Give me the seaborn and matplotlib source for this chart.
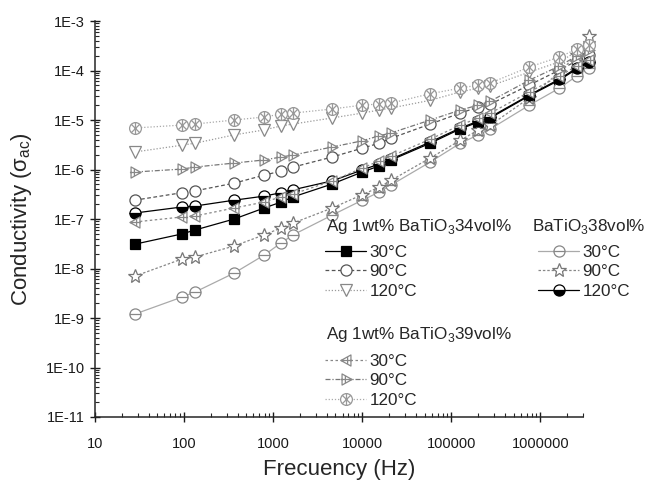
import numpy as np
import seaborn as sns
import matplotlib.pyplot as plt
from matplotlib.path import Path
from matplotlib.ticker import LogLocator, FuncFormatter, NullFormatter

# frequencies (Hz)
freq = [28, 95, 133, 365, 793, 1230, 1680, 4600, 10000, 15500, 21200,
        58000, 126000, 201000, 274000, 752000, 1630000, 2540000, 3460000]

# Ag 1wt% BaTiO3 34vol%
a34_30 = [3.1e-8, 5.0e-8, 6.0e-8, 1.0e-7, 1.67e-7, 2.2e-7, 2.8e-7, 5.1e-7, 8.9e-7, 1.18e-6,
          1.56e-6, 3.4e-6, 6.6e-6, 9.1e-6, 1.1e-5, 3.1e-5, 6.4e-5, 1.07e-4, 1.42e-4]
a34_90 = [2.4e-7, 3.4e-7, 3.7e-7, 5.3e-7, 7.7e-7, 9.3e-7, 1.12e-6, 1.79e-6, 2.7e-6, 3.4e-6,
          4.3e-6, 8.3e-6, 1.38e-5, 1.83e-5, 2.1e-5, 5.1e-5, 1.02e-4, 1.56e-4, 2.06e-4]
a34_120 = [2.26e-6, 3.1e-6, 3.4e-6, 5.0e-6, 6.3e-6, 7.6e-6, 8.3e-6, 1.1e-5, 1.38e-5, 1.59e-5,
           1.75e-5, 2.5e-5, 3.7e-5, 4.4e-5, 4.9e-5, 9.3e-5, 1.49e-4, 2.4e-4, 3.0e-4]
# BaTiO3 38vol%
b38_30 = [1.2e-9, 2.65e-9, 3.35e-9, 8.1e-9, 1.87e-8, 3.3e-8, 4.8e-8, 1.2e-7, 2.4e-7, 3.5e-7,
          4.9e-7, 1.42e-6, 3.4e-6, 5.0e-6, 6.6e-6, 2.0e-5, 4.4e-5, 7.7e-5, 1.12e-4]
b38_90 = [7.0e-9, 1.56e-8, 1.71e-8, 2.85e-8, 4.8e-8, 6.6e-8, 8.3e-8, 1.67e-7, 3.1e-7, 4.4e-7,
          6.1e-7, 1.71e-6, 3.9e-6, 6.3e-6, 7.9e-6, 2.8e-5, 9.3e-5, 2.06e-4, 5.0e-4]
b38_120 = [1.32e-7, 1.75e-7, 1.83e-7, 2.4e-7, 2.9e-7, 3.4e-7, 3.9e-7, 5.9e-7, 9.8e-7, 1.29e-6,
           1.63e-6, 3.6e-6, 6.9e-6, 9.5e-6, 1.15e-5, 3.2e-5, 6.7e-5, 1.12e-4, 1.49e-4]
# Ag 1wt% BaTiO3 39vol%
c39_30 = [8.7e-8, 1.1e-7, 1.15e-7, 1.67e-7, 2.2e-7, 2.8e-7, 3.2e-7, 5.9e-7, 1.07e-6, 1.49e-6,
          1.87e-6, 4.1e-6, 7.9e-6, 1.1e-5, 1.38e-5, 3.7e-5, 7.7e-5, 1.23e-4, 1.63e-4]
c39_90 = [8.9e-7, 1.02e-6, 1.12e-6, 1.35e-6, 1.56e-6, 1.79e-6, 1.96e-6, 2.85e-6, 3.8e-6, 4.8e-6,
          5.5e-6, 1.0e-5, 1.59e-5, 2.0e-5, 2.4e-5, 6.4e-5, 1.23e-4, 1.96e-4, 2.6e-4]
c39_120 = [6.9e-6, 7.9e-6, 8.3e-6, 1.0e-5, 1.15e-5, 1.32e-5, 1.38e-5, 1.67e-5, 2.0e-5, 2.1e-5,
           2.2e-5, 3.4e-5, 4.4e-5, 5.1e-5, 5.6e-5, 1.18e-4, 1.87e-4, 2.7e-4, 3.3e-4]

temps = ['30°C', '90°C', '120°C']
groups = ['Ag 1wt% BaTiO$_3$34vol%', 'BaTiO$_3$38vol%', 'Ag 1wt% BaTiO$_3$39vol%']

# marker shapes
M, L, C = Path.MOVETO, Path.LINETO, Path.CLOSEPOLY
theta = Path.make_compound_path(Path.unit_circle(), Path([(-1, 0), (1, 0)], [M, L]))
ltri = Path([(0.8, -1), (0.8, 1), (-1, 0), (0.8, -1), (-1, 0), (1, 0), (0.2, -0.6), (0.2, 0.6)],
            [M, L, L, C, M, L, M, L])
rtri = Path([(-0.8, -1), (-0.8, 1), (1, 0), (-0.8, -1), (-1, 0), (1, 0), (-0.2, -0.6), (-0.2, 0.6)],
            [M, L, L, C, M, L, M, L])
xcirc = Path.make_compound_path(
    Path.unit_circle(),
    Path([(-0.7, -0.7), (0.7, 0.7), (-0.7, 0.7), (0.7, -0.7), (0, -1), (0, 1)], [M, L, M, L, M, L]))

sns.set_style('ticks')
plt.rcParams['font.family'] = ['Liberation Sans', 'DejaVu Sans']
plt.rcParams['mathtext.fontset'] = 'custom'
plt.rcParams['mathtext.rm'] = 'Liberation Sans'

fig = plt.figure(figsize=(6.56, 4.82), dpi=100)
ax = fig.add_axes([95 / 656, 1 - 417 / 482, 488 / 656, 396 / 482])
ax.set(xscale='log', yscale='log')

series = [
    (a34_30, dict(color='black', linestyle='-', marker='s', markersize=6.5, markerfacecolor='black', markeredgecolor='black')),
    (a34_90, dict(color='#555555', linestyle=(0, (3, 2)), marker='o', markersize=8, markerfacecolor='white', markeredgecolor='#555555')),
    (a34_120, dict(color='#9a9a9a', linestyle=(0, (1, 1.5)), marker='v', markersize=8.5, markerfacecolor='white', markeredgecolor='#888888')),
    (b38_30, dict(color='#aaaaaa', linestyle='-', marker=theta, markersize=8, markerfacecolor='white', markeredgecolor='#888888')),
    (b38_90, dict(color='#888888', linestyle=(0, (2, 1.5)), marker='*', markersize=10, markerfacecolor='white', markeredgecolor='#777777')),
    (b38_120, dict(color='black', linestyle='-', marker='o', markersize=8, markerfacecolor='black', markerfacecoloralt='white', fillstyle='bottom', markeredgecolor='black')),
    (c39_30, dict(color='#888888', linestyle=(0, (2, 2)), marker=ltri, markersize=8, markerfacecolor='white', markeredgecolor='#888888')),
    (c39_90, dict(color='#777777', linestyle=(0, (4, 1.5, 1, 1.5)), marker=rtri, markersize=8, markerfacecolor='white', markeredgecolor='#888888')),
    (c39_120, dict(color='#aaaaaa', linestyle=(0, (1, 1.5)), marker=xcirc, markersize=8.5, markerfacecolor='white', markeredgecolor='#999999')),
]

handles = []
for i, (vals, st) in enumerate(series):
    sns.lineplot(x=freq, y=vals, ax=ax, linewidth=0.9, markeredgewidth=0.9,
                 label=temps[i % 3], legend=False, clip_on=False, **st)
    handles.append(ax.lines[-1])

ax.set_xlim(10, 3.0e6)
ax.set_ylim(1e-11, 1e-3)
sns.despine(ax=ax)
for s in ['left', 'bottom']:
    ax.spines[s].set_linewidth(1.1)

ax.xaxis.set_major_locator(LogLocator(base=10, numticks=20))
ax.xaxis.set_minor_locator(LogLocator(base=10, subs=np.arange(2, 10), numticks=20))
ax.yaxis.set_major_locator(LogLocator(base=10, numticks=20))
ax.yaxis.set_minor_locator(LogLocator(base=10, subs=np.arange(2, 10), numticks=20))
ax.xaxis.set_major_formatter(FuncFormatter(lambda v, p: f'{int(round(v))}'))
ax.yaxis.set_major_formatter(FuncFormatter(lambda v, p: f'1E{int(round(np.log10(v)))}'))
ax.xaxis.set_minor_formatter(NullFormatter())
ax.yaxis.set_minor_formatter(NullFormatter())
ax.tick_params(which='major', direction='inout', length=7, width=1, labelsize=10.5, colors='#1a1a1a')
ax.tick_params(which='minor', direction='in', length=3, width=0.8)
ax.tick_params(axis='x', which='major', pad=11)
ax.tick_params(axis='y', which='major', pad=4)

ax.set_xlabel('Frecuency (Hz)', fontsize=16, labelpad=6)
ax.set_ylabel('Conductivity (σ$_{\\mathrm{ac}}$)', fontsize=16)
ax.yaxis.set_label_coords(-0.125, 0.5)

# legend group headers
fs = 12.3
fig.text(326 / 656, 1 - 227 / 482, groups[0], fontsize=fs, va='center', ha='left')
fig.text(532 / 656, 1 - 227 / 482, groups[1], fontsize=fs, va='center', ha='left')
fig.text(326 / 656, 1 - 335 / 482, groups[2], fontsize=fs, va='center', ha='left')

leg_kw = dict(frameon=False, fontsize=fs, handlelength=2.4, handletextpad=0.2,
              labelspacing=0.26, borderpad=0, borderaxespad=0,
              bbox_transform=fig.transFigure, loc='upper left')
leg1 = ax.legend(handles[0:3], temps, bbox_to_anchor=(325 / 656, 1 - 245 / 482), **leg_kw)
ax.add_artist(leg1)
leg2 = ax.legend(handles[3:6], temps, bbox_to_anchor=(538 / 656, 1 - 245 / 482), **leg_kw)
ax.add_artist(leg2)
leg3 = ax.legend(handles[6:9], temps, bbox_to_anchor=(325 / 656, 1 - 354 / 482), **leg_kw)

fig.savefig('out.png', dpi=100)
